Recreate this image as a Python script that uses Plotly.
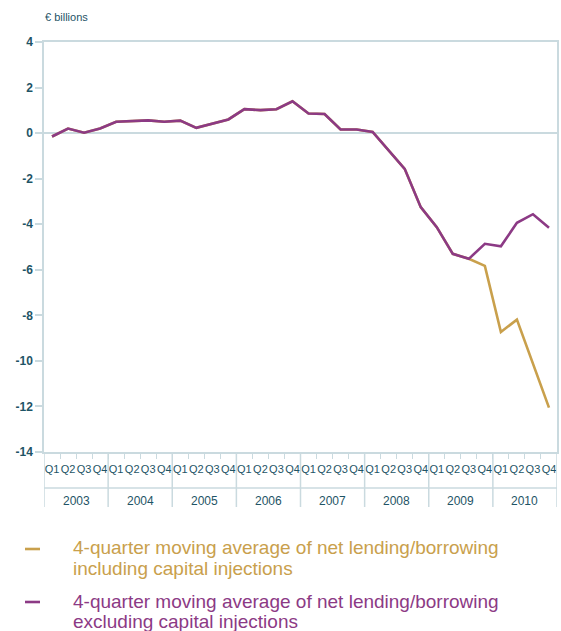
import plotly.graph_objects as go

years = ["2003", "2004", "2005", "2006", "2007", "2008", "2009", "2010"]
quarters = ["Q1", "Q2", "Q3", "Q4"]
y_ticks = [4, 2, 0, -2, -4, -6, -8, -10, -12, -14]
y_ticklabels = ["4", "2", "0", "-2", "-4", "-6", "-8", "-10", "-12", "-14"]

excl_capital = [-0.15, 0.20, 0.02, 0.20, 0.50, 0.52, 0.56, 0.50,
                0.55, 0.23, 0.42, 0.60, 1.05, 1.01, 1.05, 1.40,
                0.86, 0.84, 0.16, 0.16, 0.05, -0.75, -1.57, -3.25,
                -4.13, -5.30, -5.52, -4.86, -4.97, -3.94, -3.56, -4.15]
incl_capital = [-0.15, 0.20, 0.02, 0.20, 0.50, 0.52, 0.56, 0.50,
                0.55, 0.23, 0.42, 0.60, 1.05, 1.01, 1.05, 1.40,
                0.86, 0.84, 0.16, 0.16, 0.05, -0.75, -1.57, -3.25,
                -4.13, -5.30, -5.52, -5.83, -8.73, -8.19, -10.10, -12.05]

name_incl = ["4-quarter moving average of net lending/borrowing", "including capital injections"]
name_excl = ["4-quarter moving average of net lending/borrowing", "excluding capital injections"]

GOLD = "#C9A04C"
PURPLE = "#8C3A85"
TEXT = "#1E5466"
AXIS = "#CADADF"
FONT = "Liberation Sans, Arial, sans-serif"

W, H = 561, 631
L, R, T, B = 44, 4, 42, 179
plot_w = W - L - R
plot_h = H - T - B

n = len(years) * len(quarters)
xs = list(range(n))
qlabels = [q for _ in years for q in quarters]

fig = go.Figure()
fig.add_trace(go.Scatter(x=xs, y=incl_capital, mode="lines", name=" ".join(name_incl),
                         line=dict(color=GOLD, width=2.6), showlegend=False))
fig.add_trace(go.Scatter(x=xs, y=excl_capital, mode="lines", name=" ".join(name_excl),
                         line=dict(color=PURPLE, width=2.6), showlegend=False))

fig.update_layout(
    width=W, height=H,
    margin=dict(l=L, r=R, t=T, b=B),
    paper_bgcolor="white", plot_bgcolor="white",
    font=dict(family=FONT, color=TEXT, size=12),
)
fig.update_xaxes(
    range=[-0.5, n - 0.5], tickmode="array", tickvals=xs, ticktext=qlabels,
    ticks="", showgrid=False, zeroline=False, tickangle=0, automargin=False,
    showline=True, linecolor=AXIS, linewidth=1.5, mirror=True,
    tickfont=dict(family=FONT, size=11, color=TEXT),
    ticklabelstandoff=6,
    minor=dict(tickmode="array", tickvals=[i + 0.5 for i in xs[:-1]],
               ticks="outside", ticklen=5, tickcolor=AXIS, tickwidth=1),
)
fig.update_yaxes(
    range=[-14, 4], tickmode="array", tickvals=y_ticks, ticktext=y_ticklabels,
    ticks="outside", ticklen=7, automargin=False,
    tickcolor=AXIS, tickwidth=1.5, showgrid=False,
    zeroline=True, zerolinecolor=AXIS, zerolinewidth=1.5,
    showline=True, linecolor=AXIS, linewidth=1.5, mirror=True,
    tickfont=dict(family=FONT, size=12, color=TEXT, weight="bold"),
)

bottom = H - B
y_mid = -(488 - bottom) / plot_h
y_bot = -(507 - bottom) / plot_h

shapes = []
for k in range(len(years) + 1):
    xb = -0.5 + 4 * k
    shapes.append(dict(type="line", xref="x", yref="paper", x0=xb, x1=xb,
                       y0=0, y1=y_bot, line=dict(color=AXIS, width=1.5)))
shapes.append(dict(type="line", xref="x", yref="paper", x0=-0.5, x1=n - 0.5,
                   y0=y_mid, y1=y_mid, line=dict(color=AXIS, width=1.5)))
# legend dashes
for ypix, col in [(549, GOLD), (602, PURPLE)]:
    shapes.append(dict(type="line", xref="paper", yref="paper",
                       x0=(25 - L) / plot_w, x1=(40 - L) / plot_w,
                       y0=-(ypix - bottom) / plot_h, y1=-(ypix - bottom) / plot_h,
                       line=dict(color=col, width=2.6)))

annotations = []
for k, yr in enumerate(years):
    annotations.append(dict(x=1.5 + 4 * k, y=-(501 - bottom) / plot_h, xref="x", yref="paper",
                            text=yr, showarrow=False, xanchor="center", yanchor="middle",
                            font=dict(family=FONT, size=12, color=TEXT)))
annotations.append(dict(x=(43 - L) / plot_w, y=1 + (T - 17) / plot_h, xref="paper", yref="paper",
                        text="€ billions", showarrow=False, xanchor="left", yanchor="middle",
                        font=dict(family=FONT, size=11, color=TEXT)))
for lines, col, ys in [(name_incl, GOLD, (547, 568)), (name_excl, PURPLE, (601, 621))]:
    for txt, ypix in zip(lines, ys):
        annotations.append(dict(x=(71 - L) / plot_w, y=-(ypix - bottom) / plot_h,
                                xref="paper", yref="paper",
                                text=txt, showarrow=False, xanchor="left", yanchor="middle",
                                align="left",
                                font=dict(family=FONT, size=19, color=col)))

fig.update_layout(shapes=shapes, annotations=annotations)
fig.write_html("out.html", post_script="document.body.style.margin='0';",
               config={"displayModeBar": False})
